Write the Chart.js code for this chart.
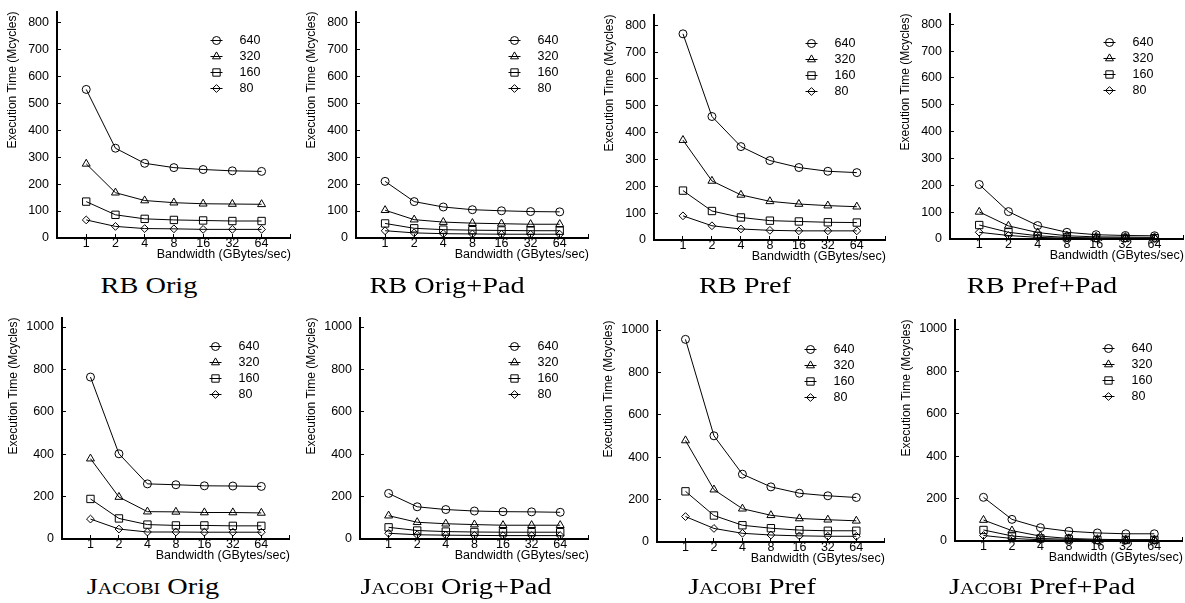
<!DOCTYPE html>
<html><head><meta charset="utf-8">
<script src="https://cdn.jsdelivr.net/npm/chart.js@4.4.0/dist/chart.umd.min.js"></script>
<style>
html,body{margin:0;padding:0;background:#fff;}
body{width:1185px;height:603px;position:relative;overflow:hidden;}
canvas{position:absolute;}
.ttl{position:absolute;font-family:"Liberation Serif","Times New Roman",serif;font-size:24px;line-height:24px;white-space:nowrap;color:#000;transform:translateX(-50%) scaleX(1.18);}
.sc{font-variant:small-caps;}
</style></head><body>
<script>
// ---- data ----
const bandwidth = ['1','2','4','8','16','32','64'];
const sizes = ['640','320','160','80'];

// each panel: rows are series 640, 320, 160, 80 (Mcycles) at bandwidth 1..64
const rbOrig = [
  [551, 333, 277, 261, 254, 249, 247],
  [275, 168, 139, 131, 127, 126, 125],
  [135, 86, 71, 67, 65, 63, 63],
  [67, 43, 35, 34, 32, 32, 32]
];
const rbOrigPad = [
  [210, 135, 115, 105, 101, 98, 97],
  [103, 68, 59, 55, 53, 51, 51],
  [54, 36, 31, 29, 28, 27, 27],
  [27, 19, 16, 15, 14, 14, 14]
];
const rbPref = [
  [768, 460, 348, 296, 270, 256, 251],
  [372, 220, 168, 144, 134, 128, 124],
  [184, 108, 84, 72, 69, 66, 65],
  [90, 53, 41, 36, 34, 34, 34]
];
const rbPrefPad = [
  [203, 102, 50, 25, 16, 13, 12],
  [101, 49, 24, 12, 8, 7, 6],
  [52, 25, 12, 6, 4, 4, 3],
  [25, 13, 6, 3, 2, 2, 2]
];
const jacobiOrig = [
  [764, 402, 260, 256, 251, 250, 248],
  [379, 198, 129, 128, 125, 125, 123],
  [189, 97, 68, 64, 64, 62, 62],
  [94, 47, 33, 33, 32, 32, 32]
];
const jacobiOrigPad = [
  [215, 152, 139, 132, 129, 128, 126],
  [110, 79, 72, 68, 65, 65, 65],
  [55, 40, 35, 33, 32, 32, 32],
  [27, 20, 18, 17, 16, 16, 16]
];
const jacobiPref = [
  [956, 501, 320, 260, 230, 218, 210],
  [479, 247, 157, 126, 111, 105, 100],
  [239, 125, 79, 65, 56, 53, 53],
  [120, 64, 41, 33, 29, 27, 27]
];
const jacobiPrefPad = [
  [206, 102, 63, 46, 38, 34, 34],
  [99, 49, 23, 12, 8, 6, 6],
  [52, 24, 12, 8, 5, 5, 5],
  [26, 12, 6, 3, 2, 2, 2]
];

const programs = ['RB', 'Jacobi'];
const variants = ['Orig', 'Orig+Pad', 'Pref', 'Pref+Pad'];
const yTitle = 'Execution Time (Mcycles)';
const xTitle = 'Bandwidth (GBytes/sec)';

// ---- styling / layout ----
const markerStyles = ['circle', 'triangle', 'rect', 'rectRot'];
const markerRadii = [4, 4.6, 5.2, 3.9];

const panels = [
  {prog:0, v:0, series:rbOrig,        L:57,  R:293,  T:4,   Z:238, ymax:840,  step:100, tx:149,  tb:292.5},
  {prog:0, v:1, series:rbOrigPad,     L:356, R:591,  T:4,   Z:238, ymax:840,  step:100, tx:447,  tb:292.5},
  {prog:0, v:2, series:rbPref,        L:654, R:888,  T:7,   Z:240, ymax:840,  step:100, tx:745,  tb:293},
  {prog:0, v:3, series:rbPrefPad,     L:950, R:1186, T:6,   Z:239, ymax:840,  step:100, tx:1042, tb:293},
  {prog:1, v:0, series:jacobiOrig,    L:62,  R:292,  T:310, Z:539, ymax:1045, step:200, tx:153,  tb:594},
  {prog:1, v:1, series:jacobiOrigPad, L:360, R:591,  T:310, Z:539, ymax:1045, step:200, tx:456,  tb:594},
  {prog:1, v:2, series:jacobiPref,    L:657, R:887,  T:313, Z:542, ymax:1045, step:200, tx:752,  tb:594},
  {prog:1, v:3, series:jacobiPrefPad, L:955, R:1185, T:312, Z:541, ymax:1045, step:200, tx:1042, tb:594}
];

Chart.defaults.font.family = "'Liberation Sans', Arial, Helvetica, sans-serif";
Chart.defaults.font.size = 12;
Chart.defaults.color = '#000';

function fallbackPoint(ctx, style, r, x, y) {
  ctx.beginPath();
  if (style === 'circle') { ctx.arc(x, y, r, 0, Math.PI * 2); }
  else if (style === 'triangle') {
    ctx.moveTo(x, y - r); ctx.lineTo(x + r * 0.866, y + r / 2); ctx.lineTo(x - r * 0.866, y + r / 2); ctx.closePath();
  } else if (style === 'rect') { const s = r * Math.SQRT1_2; ctx.rect(x - s, y - s, 2 * s, 2 * s); }
  else { ctx.moveTo(x, y - r); ctx.lineTo(x + r, y); ctx.lineTo(x, y + r); ctx.lineTo(x - r, y); ctx.closePath(); }
  ctx.stroke();
}

const seriesKey = {
  id: 'seriesKey',
  afterDatasetsDraw(chart) {
    const {ctx, chartArea} = chart;
    const cx = Math.round(chartArea.right - 75) + 0.5;
    ctx.save();
    chart.data.datasets.forEach((ds, k) => {
      const y = Math.round(chartArea.top + 28 + k * 16) + 0.5;
      ctx.strokeStyle = '#000'; ctx.lineWidth = 1;
      ctx.beginPath(); ctx.moveTo(cx - 6, y); ctx.lineTo(cx + 6, y); ctx.stroke();
      ctx.fillStyle = 'rgba(0,0,0,0)';
      if (Chart.helpers && Chart.helpers.drawPoint) {
        Chart.helpers.drawPoint(ctx, {pointStyle: ds.pointStyle, radius: ds.pointRadius, rotation: 0, borderWidth: 1}, cx, y);
      } else {
        fallbackPoint(ctx, ds.pointStyle, ds.pointRadius, cx, y);
      }
      ctx.fillStyle = '#000';
      ctx.font = "12.5px 'Liberation Sans', Arial, sans-serif";
      ctx.textBaseline = 'middle'; ctx.textAlign = 'left';
      ctx.fillText(ds.label, cx + 23, y);
    });
    ctx.restore();
  }
};

panels.forEach((g) => {
  const yW = g.prog === 0 ? 60 : 64, padTop = 12, padRight = 4, xH = 26;
  const w = yW + (g.R - g.L) + padRight;
  const h = padTop + (g.Z - g.T) + xH;
  const cv = document.createElement('canvas');
  cv.width = w; cv.height = h;
  cv.style.left = (g.L - yW) + 'px';
  cv.style.top = (g.T - padTop) + 'px';
  cv.style.width = w + 'px'; cv.style.height = h + 'px';
  document.body.appendChild(cv);

  const axisGrid = {display: true, drawOnChartArea: false, drawTicks: true, tickLength: -4, color: '#000', lineWidth: 1};
  const axisBorder = {display: true, color: '#000', width: 2};

  new Chart(cv, {
    type: 'line',
    data: {
      datasets: sizes.map((s, k) => ({
        label: s,
        data: g.series[k].map((v, j) => ({x: j + 1, y: v})),
        borderColor: '#000', borderWidth: 1, tension: 0, fill: false,
        pointStyle: markerStyles[k], pointRadius: markerRadii[k], pointHoverRadius: markerRadii[k],
        pointBorderColor: '#000', pointBackgroundColor: 'rgba(0,0,0,0)', pointBorderWidth: 1,
        clip: false
      }))
    },
    options: {
      responsive: false, animation: false, events: [], devicePixelRatio: 1,
      layout: {padding: {left: 0, top: padTop, right: padRight, bottom: 0}},
      plugins: {legend: {display: false}, tooltip: {enabled: false}},
      scales: {
        x: {
          type: 'linear', min: 0, max: 8,
          afterFit: (s) => { s.height = xH; },
          ticks: {stepSize: 1, autoSkip: false, maxRotation: 0, minRotation: 0, padding: 2, font: {size: 12.5}, color: '#000',
                  callback: (v) => bandwidth[v - 1] ?? ''},
          grid: axisGrid, border: axisBorder,
          title: {display: true, text: xTitle, align: 'end', font: {size: 12.5}, color: '#000', padding: {top: 0, bottom: 1.5}}
        },
        y: {
          type: 'linear', min: 0, max: g.ymax,
          afterFit: (s) => { s.width = yW; },
          ticks: {stepSize: g.step, includeBounds: false, padding: 12, font: {size: 12.5}, color: '#000',
                  callback: (v) => String(v)},
          grid: axisGrid, border: axisBorder,
          title: {display: true, text: yTitle, align: 'end', font: {size: 12}, color: '#000', padding: {top: 8, bottom: 0}}
        }
      }
    },
    plugins: [seriesKey]
  });

  const t = document.createElement('div');
  t.className = 'ttl';
  t.style.left = g.tx + 'px';
  t.style.top = (g.tb - 20) + 'px';
  const p = document.createElement('span');
  p.textContent = programs[g.prog];
  if (g.prog === 1) p.className = 'sc';
  t.appendChild(p);
  t.appendChild(document.createTextNode(' ' + variants[g.v]));
  document.body.appendChild(t);
});
</script>
</body></html>
